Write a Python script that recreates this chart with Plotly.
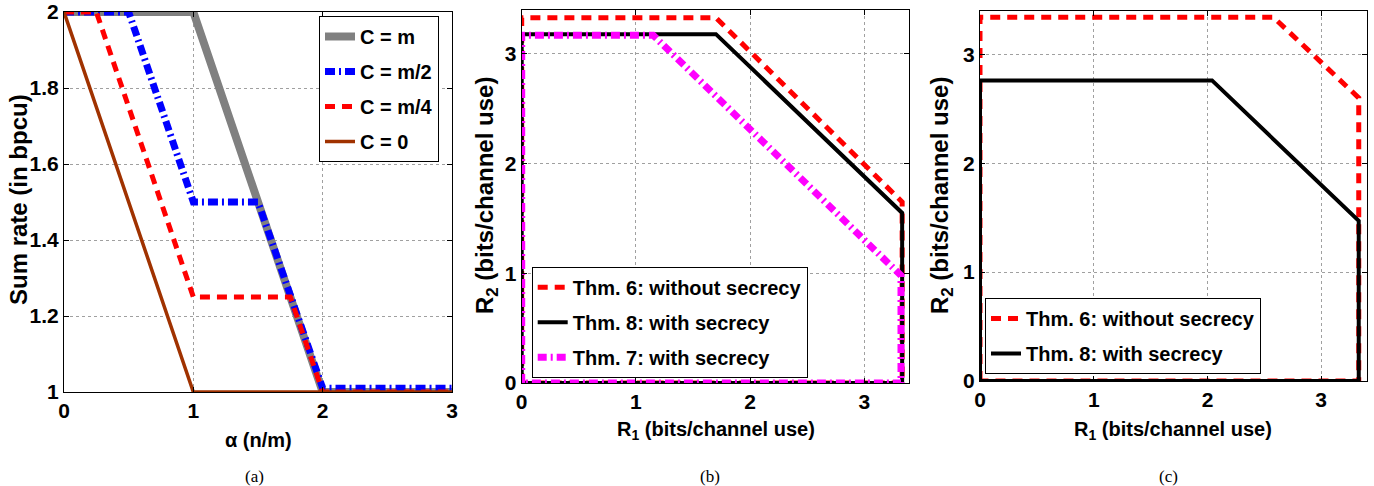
import plotly.graph_objects as go

# ---------------- data ----------------
# Panel (a): sum rate vs alpha
a_x_m = [0, 1, 2, 3]
a_y_m = [2, 2, 1, 1]
a_x_m2 = [0, 0.5, 1, 1.5, 2, 3]
a_y_m2 = [2, 2, 1.5, 1.5, 1.01, 1.01]
a_x_m4 = [0, 0.25, 1, 1.75, 2, 3]
a_y_m4 = [2, 2, 1.25, 1.25, 1.0, 1.0]
a_x_0 = [0, 1, 3]
a_y_0 = [2, 1, 1]

# Panel (b): rate regions
b_x_thm6 = [0, 0, 1.7, 3.33, 3.33, 0]
b_y_thm6 = [0, 3.33, 3.33, 1.65, 0, 0]
b_x_thm8 = [0, 0, 1.7, 3.33, 3.33, 0]
b_y_thm8 = [0, 3.18, 3.18, 1.55, 0, 0]
b_x_thm7 = [0, 0, 1.15, 3.31, 3.32, 3.32, 0]
b_y_thm7 = [0, 3.17, 3.17, 1.0, 0.98, 0, 0]

# Panel (c): rate regions
c_x_thm6 = [0, 0, 2.58, 3.32, 3.33, 3.33, 0]
c_y_thm6 = [0, 3.34, 3.34, 2.6, 2.6, 0, 0]
c_x_thm8 = [0, 0, 2.04, 3.33, 3.33, 0]
c_y_thm8 = [0, 2.76, 2.76, 1.47, 0, 0]

a_ticks_x = [0, 1, 2, 3]
a_ticks_y = [1, 1.2, 1.4, 1.6, 1.8, 2]
a_ticktext_y = ["1", "1.2", "1.4", "1.6", "1.8", "2"]
bc_ticks = [0, 1, 2, 3]

# ---------------- styling ----------------
W, H = 1374, 486
SANS = "Liberation Sans, Arial, Helvetica, sans-serif"
GRAY = "rgb(128,128,128)"
BLUE = "rgb(0,0,255)"
RED = "rgb(255,0,0)"
BROWN = "rgb(160,50,0)"
BLACK = "rgb(0,0,0)"
MAGENTA = "rgb(255,0,255)"

fig = go.Figure()

def tr(x, y, name, color, width, dash, xa, ya, legend):
    fig.add_trace(go.Scatter(x=x, y=y, mode="lines", name=name, legendgroup=name + xa,
                             line=dict(color=color, width=width, dash=dash),
                             xaxis=xa, yaxis=ya, legend=legend))

# panel a
tr(a_x_m, a_y_m, "C = m", GRAY, 8, "solid", "x", "y", "legend")
tr(a_x_m2, a_y_m2, "C = m/2", BLUE, 7, "10px,4px,2px,4px", "x", "y", "legend")
tr(a_x_m4, a_y_m4, "C = m/4", RED, 5, "10px,7px", "x", "y", "legend")
tr(a_x_0, a_y_0, "C = 0", BROWN, 3.5, "solid", "x", "y", "legend")
# panel b
tr(b_x_thm6, b_y_thm6, "Thm. 6: without secrecy", RED, 5, "10px,7px", "x2", "y2", "legend2")
tr(b_x_thm8, b_y_thm8, "Thm. 8: with secrecy", BLACK, 4, "solid", "x2", "y2", "legend2")
tr(b_x_thm7, b_y_thm7, "Thm. 7: with secrecy", MAGENTA, 7, "9px,4px,2px,4px", "x2", "y2", "legend2")
# panel c
tr(c_x_thm6, c_y_thm6, "Thm. 6: without secrecy", RED, 5, "10px,7px", "x3", "y3", "legend3")
tr(c_x_thm8, c_y_thm8, "Thm. 8: with secrecy", BLACK, 4, "solid", "x3", "y3", "legend3")

tickfont = dict(family=SANS, size=21, color="black", weight="bold")

def axis(domain, rng, tickvals, anchor, ticktext=None):
    d = dict(domain=domain, range=rng, tickvals=tickvals, anchor=anchor,
             showline=True, mirror="ticks", linecolor="black", linewidth=1,
             ticks="inside", ticklen=5, tickcolor="black",
             showgrid=True, gridcolor="rgb(160,160,160)", griddash="dot", gridwidth=1,
             zeroline=False, tickfont=tickfont, fixedrange=True, automargin=False)
    if ticktext is not None:
        d["ticktext"] = ticktext
    return d

def px_x(p):
    return p / W

def px_y(p):
    return 1 - p / H

fig.update_layout(
    template="none",
    width=W, height=H,
    margin=dict(l=0, r=0, t=0, b=0, autoexpand=False),
    paper_bgcolor="white", plot_bgcolor="white",
    xaxis=axis([px_x(64), px_x(452)], [0, 3], a_ticks_x, "y"),
    yaxis=axis([px_y(392), px_y(12)], [1, 2], a_ticks_y, "x", a_ticktext_y),
    xaxis2=axis([px_x(521.7), px_x(909)], [0, 3.39], bc_ticks, "y2"),
    yaxis2=axis([px_y(383), px_y(10)], [0, 3.4], bc_ticks, "x2"),
    xaxis3=axis([px_x(980), px_x(1366.7)], [0, 3.4], bc_ticks, "y3"),
    yaxis3=axis([px_y(381), px_y(10.7)], [0, 3.4], bc_ticks, "x3"),
    showlegend=True,
)

legfont = dict(family=SANS, size=20, color="black", weight="bold")
common_leg = dict(bgcolor="white", bordercolor="black", borderwidth=1,
                  font=legfont, xanchor="left", yanchor="top",
                  traceorder="grouped", tracegroupgap=6,
                  itemclick=False, itemdoubleclick=False)
fig.update_layout(
    legend=dict(x=px_x(319), y=px_y(16), **common_leg),
    legend2=dict(x=px_x(531.7), y=px_y(266.7), **common_leg),
    legend3=dict(x=px_x(985), y=px_y(298), **common_leg),
)

titfont_v = dict(family=SANS, size=24, color="black", weight="bold")
titfont_h = dict(family=SANS, size=20, color="black", weight="bold")
capfont = dict(family="Liberation Serif, Times New Roman, serif", size=17, color="black")

def ann(text, x, y, font, angle=0):
    fig.add_annotation(text=text, x=px_x(x), y=px_y(y), xref="paper", yref="paper",
                       showarrow=False, font=font, textangle=angle,
                       xanchor="center", yanchor="middle")

ann("Sum rate (in bpcu)", 18, 200, titfont_v, -90)
ann("α (n/m)", 258, 440, titfont_h)
ann("R<sub>2</sub> (bits/channel use)", 487, 196, titfont_v, -90)
ann("R<sub>1</sub> (bits/channel use)", 716, 430, titfont_h)
ann("R<sub>2</sub> (bits/channel use)", 942, 196, titfont_v, -90)
ann("R<sub>1</sub> (bits/channel use)", 1173, 430, titfont_h)
ann("(a)", 255, 476, capfont)
ann("(b)", 710, 476, capfont)
ann("(c)", 1168, 476, capfont)

fig.write_html("out.html", config={"displayModeBar": False},
               post_script="document.body.style.margin='0';document.body.style.overflow='hidden';")
